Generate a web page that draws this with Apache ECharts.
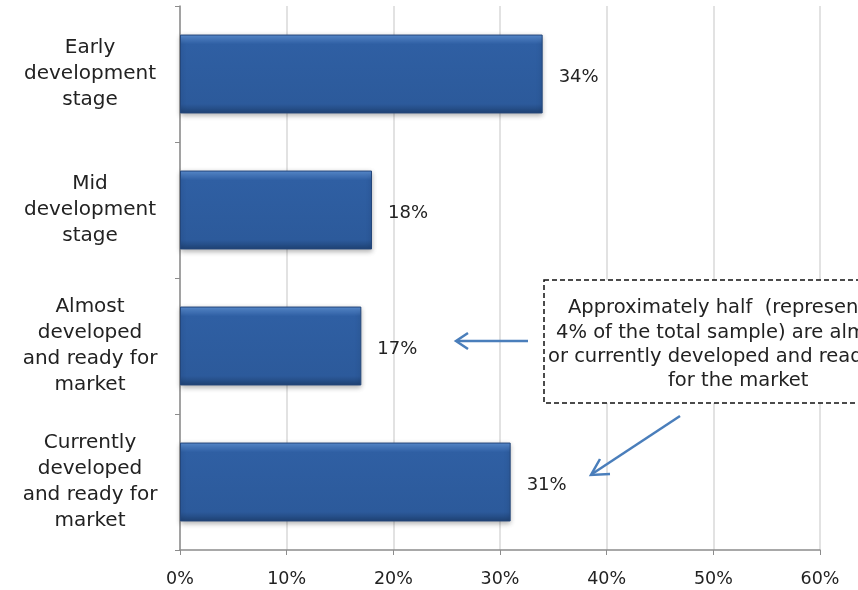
<!DOCTYPE html>
<html>
<head>
<meta charset="utf-8">
<script src="https://cdn.jsdelivr.net/npm/echarts@6/dist/echarts.min.js"></script>
<style>
html,body{margin:0;padding:0;background:#fff;}
#chart{width:858px;height:590px;}
</style>
</head>
<body>
<div id="chart"></div>
<script>
const categories = [
  'Early\ndevelopment\nstage',
  'Mid\ndevelopment\nstage',
  'Almost\ndeveloped\nand ready for\nmarket',
  'Currently\ndeveloped\nand ready for\nmarket'
];
const values = [34, 18, 17, 31];
const xTicks = [0, 10, 20, 30, 40, 50, 60];
const noteLines = [
  'Approximately half  (representing',
  '4% of the total sample) are almost',
  'or currently developed and ready',
  'for the market'
];

const FONT = 'DejaVu Sans';
const chart = echarts.init(document.getElementById('chart'), null, {renderer: 'canvas'});

const noteX = [568, 556, 548, 668];
const noteY = [308, 333, 357, 381];

const option = {
  animation: false,
  backgroundColor: '#fff',
  grid: {left: 180, right: 38, top: 6, bottom: 40, containLabel: false},
  xAxis: {
    type: 'value',
    min: xTicks[0],
    max: xTicks[xTicks.length - 1],
    interval: 10,
    axisLine: {show: true, lineStyle: {color: '#8c8c8c', width: 1.5}},
    axisTick: {show: true, length: 5, inside: false, lineStyle: {color: '#8c8c8c'}},
    splitLine: {show: true, lineStyle: {color: '#d9d9d9', width: 1.5}},
    axisLabel: {
      formatter: v => v + '%',
      fontFamily: FONT, fontSize: 17.5, color: '#222', margin: 20
    }
  },
  yAxis: {
    type: 'category',
    data: categories,
    inverse: true,
    axisLine: {show: true, lineStyle: {color: '#8c8c8c', width: 1.5}},
    axisTick: {show: true, length: 5, lineStyle: {color: '#8c8c8c'}},
    splitLine: {show: false},
    axisLabel: {
      fontFamily: FONT, fontSize: 20, color: '#222',
      align: 'center', margin: 90, lineHeight: 26
    }
  },
  series: [{
    type: 'bar',
    data: values,
    barWidth: '58%',
    itemStyle: {
      color: new echarts.graphic.LinearGradient(0, 0, 0, 1, [
        {offset: 0, color: '#5b8fd4'},
        {offset: 0.12, color: '#2f5fa3'},
        {offset: 0.88, color: '#2c5a9b'},
        {offset: 1, color: '#1f4274'}
      ]),
      borderColor: '#24467a',
      borderWidth: 1,
      shadowColor: 'rgba(0,0,0,0.3)',
      shadowBlur: 5,
      shadowOffsetY: 2
    },
    label: {
      show: true,
      position: 'right',
      distance: 16,
      offset: [0, 3],
      formatter: p => p.value + '%',
      fontFamily: FONT, fontSize: 18, color: '#222'
    }
  }],
  graphic: [
    {
      type: 'rect',
      shape: {x: 544, y: 280, width: 394, height: 123},
      style: {fill: '#fff', stroke: '#111', lineWidth: 1.5, lineDash: [5, 3]},
      z: 10
    }
  ].concat(noteLines.map((t, i) => ({
    type: 'text',
    x: noteX[i], y: noteY[i],
    style: {text: t, fontFamily: FONT, fontSize: 19.5, fill: '#222', textVerticalAlign: 'middle', verticalAlign: 'middle'},
    z: 11
  }))).concat([
    {
      type: 'line', shape: {x1: 528, y1: 341, x2: 457, y2: 341},
      style: {stroke: '#4a7ebb', lineWidth: 2.5}, z: 12
    },
    {
      type: 'polyline', shape: {points: [[468, 333], [456, 341], [468, 349]]},
      style: {stroke: '#4a7ebb', lineWidth: 2.5, fill: null}, z: 12
    },
    {
      type: 'line', shape: {x1: 680, y1: 416, x2: 592, y2: 474},
      style: {stroke: '#4a7ebb', lineWidth: 2.5}, z: 12
    },
    {
      type: 'polyline', shape: {points: [[600, 459], [591, 475], [610, 474]]},
      style: {stroke: '#4a7ebb', lineWidth: 2.5, fill: null}, z: 12
    }
  ])
};
chart.setOption(option);
</script>
</body>
</html>
